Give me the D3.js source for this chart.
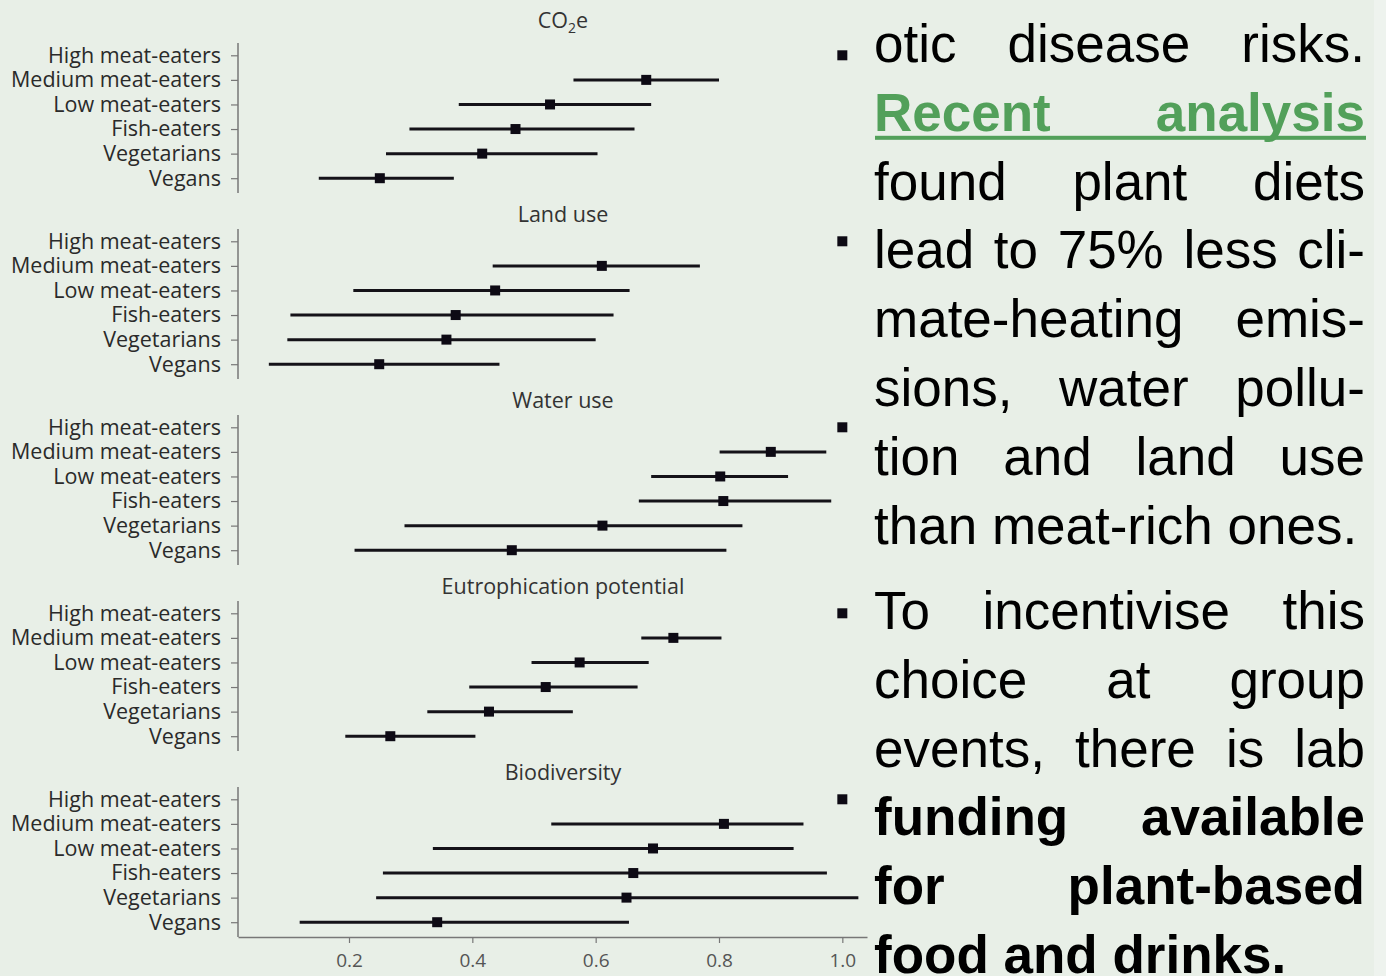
<!DOCTYPE html>
<html>
<head>
<meta charset="utf-8">
<script src="https://cdn.jsdelivr.net/npm/d3@7"></script>
<style>
  html, body { margin: 0; padding: 0; background: #e8efe7; }
  svg { display: block; }
</style>
</head>
<body>
<div id="chart"></div>
<script>
// diet groups (y categories), same for every panel
const groups = ["High meat-eaters", "Medium meat-eaters", "Low meat-eaters", "Fish-eaters", "Vegetarians", "Vegans"];
const metrics = ["CO2e", "Land use", "Water use", "Eutrophication potential", "Biodiversity"];

// point estimates and intervals, relative to high meat-eaters (=1)
const co2Mid = [1, 0.682, 0.526, 0.470, 0.416, 0.250];
const co2Lo  = [null, 0.564, 0.378, 0.298, 0.260, 0.151];
const co2Hi  = [null, 0.800, 0.690, 0.663, 0.603, 0.370];

const landMid = [1, 0.610, 0.437, 0.373, 0.358, 0.249];
const landLo  = [null, 0.433, 0.207, 0.105, 0.100, 0.070];
const landHi  = [null, 0.769, 0.655, 0.629, 0.600, 0.444];

const waterMid = [1, 0.884, 0.802, 0.807, 0.611, 0.464];
const waterLo  = [null, 0.801, 0.690, 0.670, 0.290, 0.209];
const waterHi  = [null, 0.974, 0.912, 0.982, 0.838, 0.812];

const eutroMid = [1, 0.726, 0.574, 0.519, 0.427, 0.267];
const eutroLo  = [null, 0.674, 0.496, 0.395, 0.327, 0.194];
const eutroHi  = [null, 0.804, 0.686, 0.668, 0.563, 0.405];

const bioMid = [1, 0.808, 0.693, 0.661, 0.650, 0.343];
const bioLo  = [null, 0.528, 0.336, 0.255, 0.244, 0.120];
const bioHi  = [null, 0.937, 0.921, 0.975, 1.026, 0.654];

const xTicks = [0.2, 0.4, 0.6, 0.8, 1.0];

// text block on the right
const para1 = ["otic disease risks.", "Recent analysis", "found plant diets", "lead to 75% less cli-",
  "mate-heating emis-", "sions, water pollu-", "tion and land use", "than meat-rich ones."];
const para2 = ["To incentivise this", "choice at group", "events, there is lab",
  "funding available", "for plant-based", "food and drinks."];

const width = 1386;
const height = 976;

const svg = d3.select("#chart").append("svg")
  .attr("width", width)
  .attr("height", height);

svg.append("rect").attr("width", width).attr("height", height).attr("fill", "#e8efe7");
svg.append("rect").attr("x", 1374).attr("width", 12).attr("height", height).attr("fill", "#eef3ee");

const panelData = [
  [co2Mid, co2Lo, co2Hi],
  [landMid, landLo, landHi],
  [waterMid, waterLo, waterHi],
  [eutroMid, eutroLo, eutroHi],
  [bioMid, bioLo, bioHi]
];

const axisX = 238;
const labelFont = "'Open Sans', sans-serif";

const x = d3.scaleLinear()
  .domain([0.02, 1.04])
  .range([axisX, 867]);

function drawPanel(i) {
  const top = 43 + i * 186;
  const [mid, lo, hi] = panelData[i];
  const rows = groups.map((g, k) => ({ group: g, mid: mid[k], lo: lo[k], hi: hi[k] }));

  const y = d3.scalePoint()
    .domain(groups)
    .range([top, top + 147.5])
    .padding(0.5);

  const g = svg.append("g");

  // panel title (CO2e gets a subscript)
  const title = g.append("text")
    .attr("x", 563)
    .attr("y", i === 0 ? top - 15 : top - 7)
    .attr("text-anchor", "middle")
    .attr("font-family", labelFont)
    .attr("font-size", 21.5)
    .attr("fill", "#333");
  if (metrics[i] === "CO2e") {
    title.append("tspan").text("CO");
    title.append("tspan").attr("font-size", 14).attr("dy", 5).text("2");
    title.append("tspan").attr("dy", -5).text("e");
  } else {
    title.text(metrics[i]);
  }

  // y axis with group names
  const yAxis = g.append("g")
    .attr("transform", `translate(${axisX},0)`)
    .call(d3.axisLeft(y).tickSize(7).tickSizeOuter(0).tickPadding(10));
  yAxis.select(".domain")
    .attr("d", `M0,${top}V${top + 150}`)
    .attr("stroke", "#777").attr("stroke-width", 1.5);
  yAxis.selectAll(".tick line").attr("stroke", "#777").attr("stroke-width", 1.2);
  yAxis.selectAll(".tick text")
    .attr("font-family", labelFont)
    .attr("font-size", 21.5)
    .attr("fill", "#2a2a2a");

  // intervals
  g.selectAll(".ci")
    .data(rows.filter(d => d.lo !== null))
    .join("line")
    .attr("x1", d => x(d.lo))
    .attr("x2", d => x(d.hi))
    .attr("y1", d => y(d.group))
    .attr("y2", d => y(d.group))
    .attr("stroke", "#141218")
    .attr("stroke-width", 3);

  // point estimates
  g.selectAll(".pt")
    .data(rows)
    .join("rect")
    .attr("x", d => x(d.mid) - 5)
    .attr("y", d => y(d.group) - 5)
    .attr("width", 10)
    .attr("height", 10)
    .attr("fill", "#0d0a14");

  // bottom axis only under the last panel
  if (i === metrics.length - 1) {
    const xAxis = g.append("g")
      .attr("transform", `translate(0,${top + 150})`)
      .call(d3.axisBottom(x).tickValues(xTicks).tickFormat(d3.format(".1f")).tickSize(6).tickSizeOuter(0).tickPadding(11));
    xAxis.select(".domain").attr("stroke", "#777").attr("stroke-width", 1.5);
    xAxis.selectAll(".tick line").attr("stroke", "#777").attr("stroke-width", 1.2);
    xAxis.selectAll(".tick text")
      .attr("font-family", labelFont)
      .attr("font-size", 19)
      .attr("fill", "#555");
  }
}

metrics.forEach((m, i) => drawPanel(i));

// justified text block
const textLeft = 874;
const textRight = 1365;
const lineGap = 68.8;

function drawLine(str, baseline, opts) {
  const words = str.split(" ");
  const grp = svg.append("g");
  const nodes = words.map(w => grp.append("text")
    .attr("y", baseline)
    .attr("font-family", "'Liberation Sans', Arial, sans-serif")
    .attr("font-size", 53)
    .attr("font-weight", opts.bold ? "bold" : "normal")
    .attr("fill", opts.color || "#000")
    .text(w));
  const widths = nodes.map(n => n.node().getComputedTextLength());
  const total = d3.sum(widths);
  let gap = 53 * 0.278;
  if (!opts.last && words.length > 1) gap = (textRight - textLeft - total) / (words.length - 1);
  let cx = textLeft;
  nodes.forEach((n, k) => {
    n.attr("x", cx);
    cx += widths[k] + gap;
  });
  if (opts.underline) {
    grp.append("rect")
      .attr("x", textLeft + 1)
      .attr("y", baseline + 5)
      .attr("width", textRight - textLeft)
      .attr("height", 4)
      .attr("fill", opts.color);
  }
}

para1.forEach((s, k) => {
  const green = k === 1;
  drawLine(s, 62 + k * lineGap, {
    bold: green,
    color: green ? "#52a05a" : "#000",
    underline: green,
    last: k === para1.length - 1
  });
});

para2.forEach((s, k) => {
  drawLine(s, 629 + k * lineGap, {
    bold: k >= 3,
    last: k === para2.length - 1
  });
});
</script>
</body>
</html>
